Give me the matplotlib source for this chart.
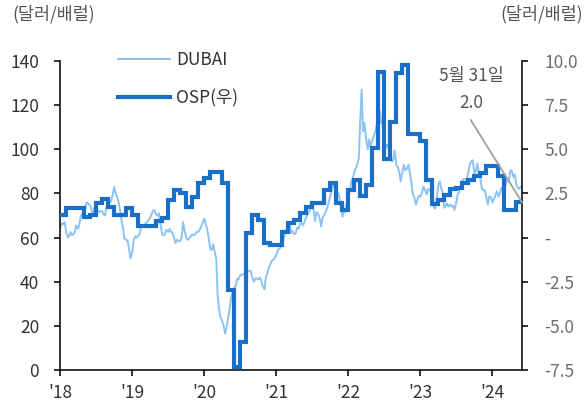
import numpy as np
import pandas as pd
import matplotlib
matplotlib.use("Agg")
import matplotlib.pyplot as plt
from matplotlib.ticker import FixedLocator, FuncFormatter

plt.rcParams['font.family'] = ['Noto Sans CJK KR', 'DejaVu Sans']

# Dubai crude, $/bbl, four readings per month (days 3, 10, 17, 24)
dubai_2018 = [64.5, 66.5, 66.0, 67.0, 62.0, 60.0, 61.0, 62.5, 61.0, 61.5, 62.5, 65.5,
              64.0, 66.5, 70.0, 70.5, 72.0, 74.0, 76.0, 75.5, 74.5, 72.5, 71.0, 73.5,
              74.0, 72.5, 71.5, 72.0, 72.0, 70.5, 70.0, 73.5, 75.0, 76.0, 76.5, 79.0,
              83.0, 80.0, 78.5, 76.5, 71.5, 67.0, 64.0, 59.5, 59.0, 58.5, 55.0, 50.5]
dubai_2019 = [54.0, 59.0, 60.5, 60.0, 61.0, 62.0, 65.5, 65.0, 65.0, 66.5, 67.0, 67.5,
              69.0, 70.5, 72.0, 72.5, 70.5, 70.0, 71.0, 67.0, 61.5, 61.0, 61.5, 63.5,
              62.5, 64.0, 62.5, 62.5, 59.5, 57.5, 59.0, 58.5, 58.5, 60.0, 67.0, 63.5,
              60.0, 59.0, 59.5, 60.5, 61.5, 61.0, 61.5, 62.5, 62.5, 63.5, 65.0, 66.5]
dubai_2020 = [68.5, 66.0, 64.0, 60.0, 54.5, 54.5, 57.0, 53.5, 50.5, 34.0, 28.0, 24.0,
              22.0, 20.0, 16.5, 19.0, 24.0, 28.0, 32.5, 34.5, 37.5, 38.0, 41.5, 41.0,
              43.0, 43.0, 43.5, 43.5, 44.0, 44.5, 45.0, 45.0, 41.5, 40.0, 41.5, 41.5,
              41.0, 42.0, 40.5, 38.0, 36.5, 42.5, 43.5, 46.5, 48.0, 49.5, 50.0, 50.5]
dubai_2021 = [52.5, 54.5, 55.0, 55.5, 57.5, 60.5, 62.5, 64.0, 66.5, 67.0, 62.0, 63.0,
              61.5, 62.0, 64.5, 64.0, 66.5, 66.5, 65.5, 67.0, 69.5, 70.5, 71.5, 73.0,
              74.0, 72.5, 67.5, 71.5, 70.5, 68.5, 65.0, 69.0, 70.5, 72.0, 73.5, 76.0,
              79.5, 81.5, 83.5, 83.0, 81.0, 80.5, 78.5, 74.0, 69.5, 72.5, 71.5, 75.5]
dubai_2022 = [78.0, 81.5, 85.5, 87.0, 90.5, 91.5, 93.5, 96.0, 113.0, 127.0, 108.0, 112.0,
              104.0, 100.0, 104.5, 101.0, 104.0, 106.0, 107.5, 110.5, 114.0, 117.5, 112.0, 111.5,
              106.5, 100.5, 102.0, 101.0, 96.5, 94.5, 95.0, 99.5, 92.5, 92.0, 89.5, 85.5,
              90.0, 93.0, 90.5, 91.0, 93.0, 89.0, 85.0, 80.0, 78.0, 75.0, 77.0, 79.0]
dubai_2023 = [78.5, 80.5, 83.0, 82.0, 79.5, 82.0, 81.5, 81.0, 82.0, 74.0, 73.0, 76.5,
              84.0, 85.5, 82.5, 80.5, 73.5, 74.5, 75.5, 74.0, 75.0, 74.0, 74.5, 72.5,
              76.0, 79.5, 80.5, 83.0, 86.0, 86.5, 86.5, 86.0, 90.0, 93.5, 94.5, 95.0,
              89.0, 90.0, 93.5, 90.0, 86.0, 82.0, 81.5, 81.5, 78.0, 75.0, 78.5, 78.5]
dubai_2024 = [76.0, 77.5, 79.0, 81.0, 78.5, 80.5, 82.5, 81.5, 82.5, 84.0, 86.5, 85.5,
              90.5, 90.0, 87.5, 88.5, 84.0, 82.5, 82.0, 83.0]

# Monthly OSP premium, $/bbl (Jan 2018 .. May 2024)
osp_2018 = [1.28, 1.68, 1.68, 1.68, 1.18, 1.28, 1.94, 2.17, 1.75, 1.28, 1.28, 1.70]
osp_2019 = [1.30, 0.64, 0.64, 0.64, 0.95, 1.10, 2.15, 2.70, 2.55, 1.75, 2.30, 3.07]
osp_2020 = [3.36, 3.73, 3.73, 3.07, -2.97, -7.31, -5.90, 0.24, 1.28, 1.00, -0.32, -0.42]
osp_2021 = [-0.42, 0.34, 0.85, 1.02, 1.38, 1.72, 1.94, 1.94, 2.70, 3.07, 1.94, 1.55]
osp_2022 = [2.70, 3.24, 2.36, 2.98, 5.06, 9.37, 4.45, 6.56, 9.30, 9.78, 5.88, 5.88]
osp_2023 = [5.45, 3.28, 1.88, 2.10, 2.40, 2.75, 2.80, 3.09, 3.25, 3.50, 3.64, 4.08]
osp_2024 = [4.08, 3.50, 1.56, 1.56, 2.0]

year_labels = ["'18", "'19", "'20", "'21", "'22", "'23", "'24"]
left_ticks = [0, 20, 40, 60, 80, 100, 120, 140]
right_ticks = [-7.5, -5.0, -2.5, 0.0, 2.5, 5.0, 7.5, 10.0]

dubai = np.concatenate([dubai_2018, dubai_2019, dubai_2020, dubai_2021,
                        dubai_2022, dubai_2023, dubai_2024])
dubai_dates = [pd.Timestamp(y, m, d)
               for y in range(2018, 2025) for m in range(1, 13) for d in (3, 10, 17, 24)][:len(dubai)]

osp = np.concatenate([osp_2018, osp_2019, osp_2020, osp_2021,
                      osp_2022, osp_2023, osp_2024])
osp_dates = list(pd.date_range('2018-01-01', periods=len(osp), freq='MS'))
end_date = pd.Timestamp('2024-05-31')
osp_x = osp_dates + [end_date]
osp_y = list(osp) + [osp[-1]]

c_dubai = '#8cc3f2'
c_osp = '#1a6fc8'
spine_c = '#111111'
fs = 12.5

fig = plt.figure(figsize=(5.84, 4.05), dpi=100)
ax = fig.add_axes([60 / 584, 35 / 405, 462 / 584, 309 / 405])
ax2 = ax.twinx()

l_dubai, = ax.plot(dubai_dates, dubai, color=c_dubai, lw=1.4, zorder=2)
l_osp, = ax2.step(osp_x, osp_y, where='post', color=c_osp, lw=3.0,
                  solid_joinstyle='miter', zorder=3)

ax.set_xlim(pd.Timestamp('2018-01-01'), end_date)
ax.set_ylim(0, 140)
ax2.set_ylim(-7.5, 10)

year_pos = [pd.Timestamp(y, 1, 1) for y in range(2018, 2025)]
ax.set_xticks(year_pos)
ax.set_xticklabels(year_labels)
ax.yaxis.set_major_locator(FixedLocator(left_ticks))
ax2.yaxis.set_major_locator(FixedLocator(right_ticks))
ax2.yaxis.set_major_formatter(FuncFormatter(lambda v, p: '-' if abs(v) < 1e-9 else f'{v:.1f}'))

for a in (ax, ax2):
    a.spines['top'].set_visible(False)
    for s in a.spines.values():
        s.set_color(spine_c)
        s.set_linewidth(1.2)
ax.spines['right'].set_visible(False)
ax2.spines['left'].set_visible(False)
ax2.spines['bottom'].set_visible(False)

ax.tick_params(axis='y', direction='out', length=4, width=1.2, color=spine_c,
               labelsize=fs, labelcolor='#333333', pad=11)
ax.tick_params(axis='x', direction='out', length=4, width=1.2, color=spine_c,
               labelsize=fs, labelcolor='#333333', pad=6)
ax2.tick_params(axis='y', direction='out', length=4, width=1.2, color=spine_c,
                labelsize=fs, labelcolor='#6e6e6e', pad=12)

fig.text(12 / 584, 1 - 14 / 405, '(달러/배럴)', fontsize=12.5, color='#555555',
         ha='left', va='center')
fig.text(583 / 584, 1 - 14 / 405, '(달러/배럴)', fontsize=12.5, color='#555555',
         ha='right', va='center')

ax.legend([l_dubai, l_osp], ['DUBAI', 'OSP(우)'], frameon=False, loc='upper left',
          bbox_to_anchor=(118 / 584, 1 - 51 / 405), bbox_transform=fig.transFigure,
          fontsize=12.5, handlelength=3.0, handletextpad=0.35, labelspacing=1.15,
          borderpad=0, borderaxespad=0, labelcolor='#333333')

ax2.annotate('', xy=(end_date, osp[-1]), xytext=(pd.Timestamp('2023-09-14'), 6.66),
             arrowprops=dict(arrowstyle='-', color='#a0a0a0', lw=1.3, shrinkA=0, shrinkB=0),
             zorder=4)
ax2.text(pd.Timestamp('2023-09-16'), 9.15, '5월 31일', ha='center', va='center',
         fontsize=12.5, color='#555555')
ax2.text(pd.Timestamp('2023-09-16'), 7.62, f'{osp[-1]:.1f}', ha='center', va='center',
         fontsize=12.5, color='#555555')

fig.savefig('out.png', dpi=100)
